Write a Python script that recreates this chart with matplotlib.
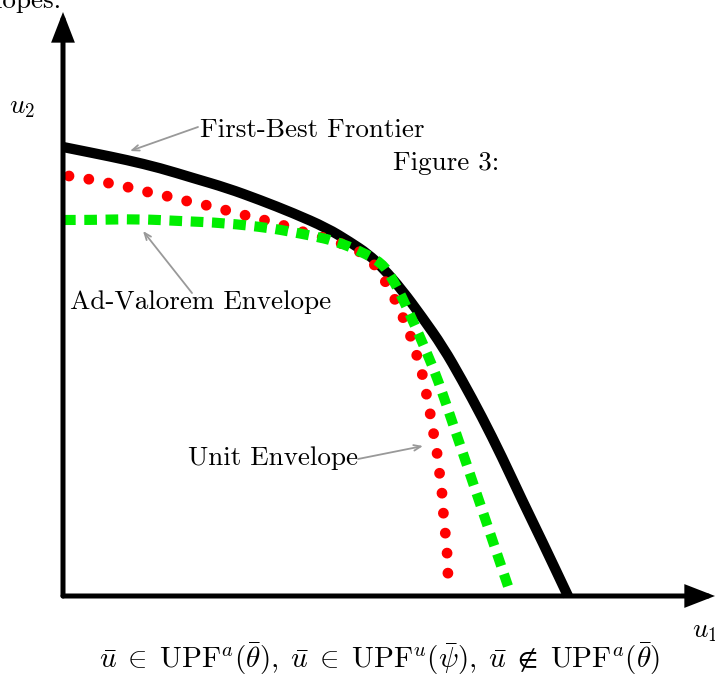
import matplotlib
matplotlib.use("Agg")
import matplotlib.pyplot as plt
from matplotlib.patches import FancyArrowPatch, PathPatch
from matplotlib.path import Path

plt.rcParams["mathtext.fontset"] = "cm"
plt.rcParams["font.family"] = ["cmr10", "DejaVu Serif"]
plt.rcParams["axes.formatter.use_mathtext"] = True

# Utility possibility frontiers (u1, u2)
first_best_u1 = [0.00, 0.30, 0.64, 0.97, 1.30, 1.64, 1.97, 2.30, 2.64, 2.87, 3.05, 3.20, 3.39,
                 3.59, 3.80, 3.99, 4.19, 4.39, 4.59, 4.79, 5.05]
first_best_u2 = [4.49, 4.43, 4.36, 4.28, 4.18, 4.08, 3.96, 3.83, 3.68, 3.54, 3.42, 3.28, 3.06,
                 2.79, 2.49, 2.16, 1.79, 1.39, 0.96, 0.55, 0.00]

unit_u1 = [0.06, 0.26, 0.45, 0.65, 0.84, 1.04, 1.23, 1.43, 1.62, 1.81, 2.01, 2.20, 2.40, 2.59,
           2.77, 2.97, 3.10, 3.21, 3.31, 3.39, 3.47, 3.53, 3.59, 3.63, 3.67, 3.70, 3.74, 3.76,
           3.79, 3.80, 3.82, 3.84, 3.85, 3.85]
unit_u2 = [4.20, 4.17, 4.13, 4.09, 4.04, 4.00, 3.95, 3.91, 3.86, 3.81, 3.76, 3.71, 3.64, 3.59,
           3.53, 3.45, 3.34, 3.17, 2.99, 2.81, 2.62, 2.43, 2.24, 2.04, 1.84, 1.65, 1.45, 1.26,
           1.06, 0.86, 0.66, 0.46, 0.26, 0.06]

advalorem_u1 = [0.00, 0.29, 0.74, 1.17, 1.62, 2.07, 2.29, 2.50, 2.72, 2.97, 3.19, 3.29, 3.39,
                3.48, 3.57, 3.66, 3.75, 3.92, 4.09, 4.26, 4.47]
advalorem_u2 = [3.76, 3.76, 3.77, 3.75, 3.73, 3.68, 3.64, 3.60, 3.55, 3.45, 3.33, 3.18, 2.99,
                2.79, 2.59, 2.38, 2.16, 1.66, 1.16, 0.66, 0.04]


def smooth_path(xs, ys):
    """Quadratic-Bezier path using the points as control points (corner-cutting)."""
    pts = list(zip(xs, ys))
    verts = [pts[0]]
    codes = [Path.MOVETO]
    for i in range(1, len(pts) - 1):
        mid = ((pts[i][0] + pts[i + 1][0]) / 2, (pts[i][1] + pts[i + 1][1]) / 2)
        verts += [pts[i], mid]
        codes += [Path.CURVE3, Path.CURVE3]
    verts.append(pts[-1])
    codes.append(Path.LINETO)
    return Path(verts, codes)


fig = plt.figure(figsize=(7.15, 6.77), dpi=100)
ax = fig.add_axes([0, 0, 1, 1])
ax.set_xlim(-0.63, 6.52)
ax.set_ylim(-0.81, 5.96)
ax.axis("off")

# Coordinate axes with arrow heads
for tip in [(0, 5.84), (6.52, 0)]:
    ax.add_patch(FancyArrowPatch((0, 0), tip, arrowstyle="-|>,head_length=0.85,head_width=0.33",
                                 mutation_scale=18, lw=3.6, color="black",
                                 shrinkA=0, shrinkB=0, zorder=5, joinstyle="miter"))

# Frontiers
ax.add_patch(PathPatch(smooth_path(first_best_u1, first_best_u2), fill=False,
                       edgecolor="black", lw=7.4, capstyle="butt", joinstyle="round", zorder=2))
ax.add_patch(PathPatch(smooth_path(unit_u1, unit_u2), fill=False, edgecolor="#ff0000",
                       lw=7.8, linestyle=(0, (0.001, 1.85)), capstyle="round", zorder=3))
ax.add_patch(PathPatch(smooth_path(advalorem_u1, advalorem_u2), fill=False, edgecolor="#00ee00",
                       lw=7.3, linestyle=(0, (1.25, 0.85)), capstyle="butt",
                       joinstyle="miter", zorder=4))

fs = 19.5
gray = "#999999"
pointer = dict(arrowstyle="->,head_length=0.5,head_width=0.2", color=gray, lw=1.3,
               shrinkA=0, shrinkB=0)

# Labels with pointer arrows
ax.text(1.37, 4.59, "First-Best Frontier", fontsize=fs, ha="left", va="baseline")
ax.annotate("", xy=(0.67, 4.45), xytext=(1.35, 4.69), arrowprops=pointer)
ax.text(3.30, 4.26, "Figure 3:", fontsize=fs, ha="left", va="baseline")
ax.text(0.07, 2.87, "Ad-Valorem Envelope", fontsize=fs, ha="left", va="baseline")
ax.annotate("", xy=(0.80, 3.65), xytext=(1.29, 3.03), arrowprops=pointer)
ax.text(1.25, 1.31, "Unit Envelope", fontsize=fs, ha="left", va="baseline")
ax.annotate("", xy=(3.60, 1.50), xytext=(2.95, 1.37), arrowprops=pointer)

ax.text(-0.02, 5.88, "Unit and Ad-Valorem Envelopes.", fontsize=fs, ha="right", va="baseline")
ax.text(-0.41, 4.88, r"$u_2$", fontsize=fs, ha="center", va="center")
ax.text(6.29, -0.36, r"$u_1$", fontsize=fs, ha="left", va="center")
ax.text(3.17, -0.72,
        r"$\bar{u}\;\in\;\mathrm{UPF}^a(\bar{\theta}),\;\bar{u}\;\in\;\mathrm{UPF}^u(\bar{\psi}),"
        r"\;\bar{u}\;\notin\;\mathrm{UPF}^a(\bar{\theta})$",
        fontsize=21, ha="center", va="baseline")

fig.savefig("out.png", dpi=100)
